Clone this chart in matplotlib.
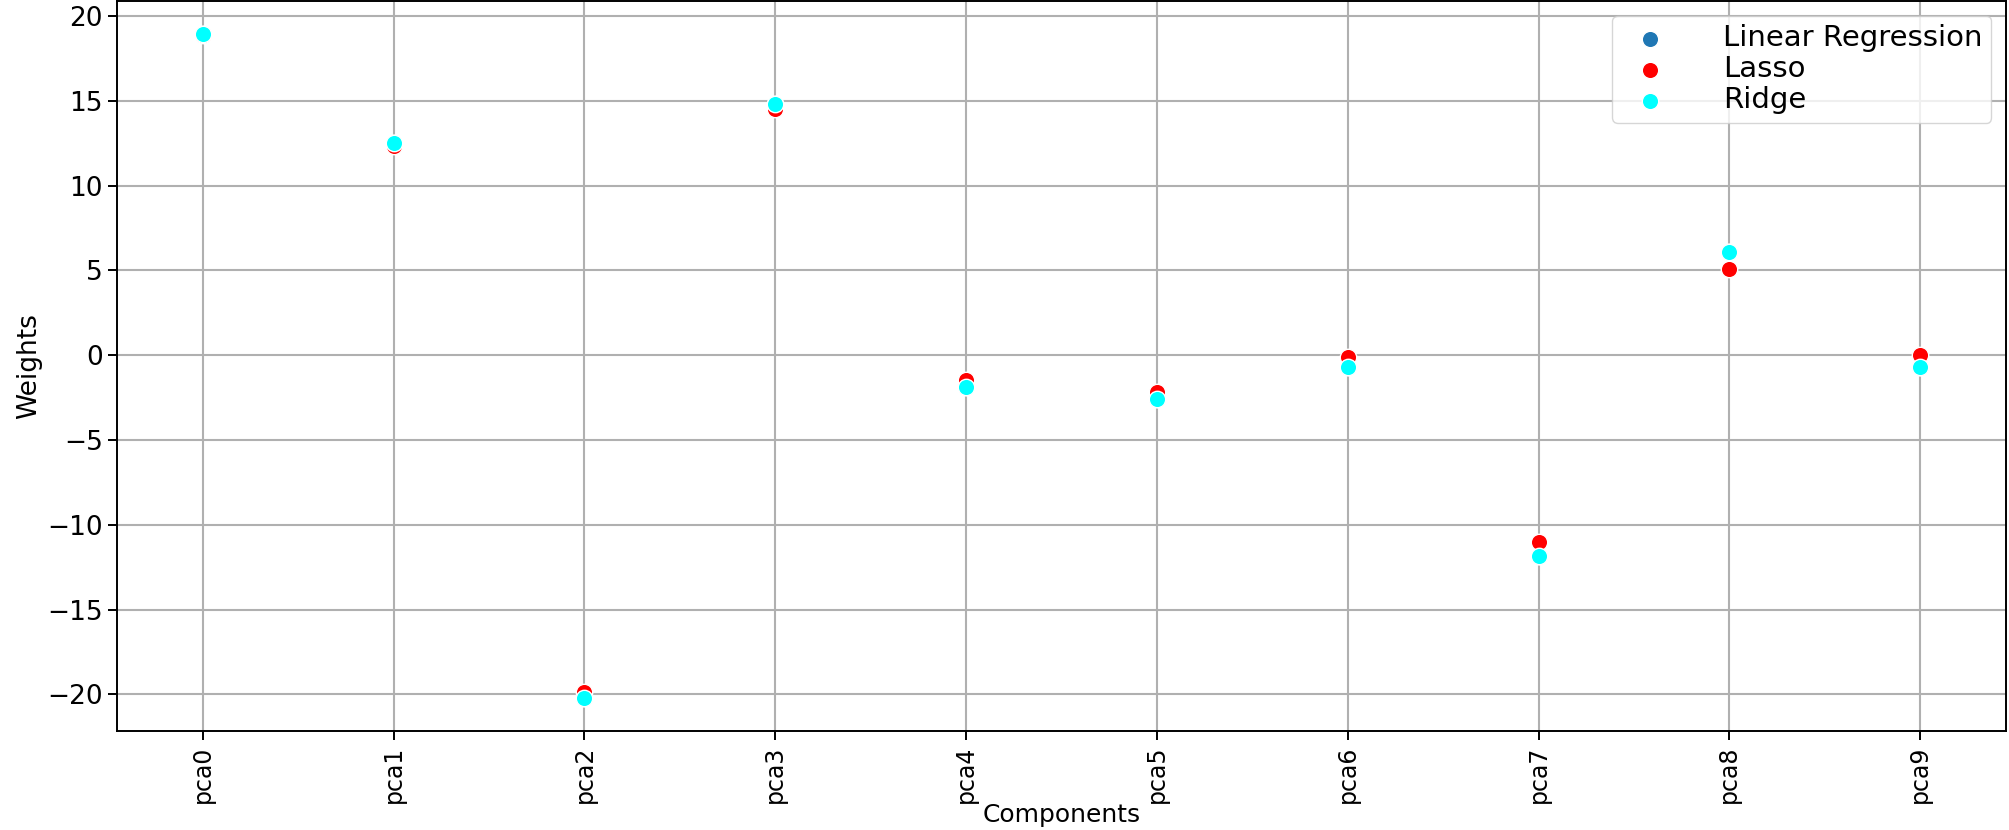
## pesos dos componentes PCA por modelo
import numpy as np
import matplotlib.pyplot as plt

## dados
components = ['pca0', 'pca1', 'pca2', 'pca3', 'pca4', 'pca5', 'pca6', 'pca7', 'pca8', 'pca9']
linear_w = [18.92, 12.49, -20.2, 14.78, -1.86, -2.6, -0.7, -11.85, 6.08, -0.69]
lasso_w = [18.9, 12.3, -19.88, 14.5, -1.47, -2.16, -0.1, -11.02, 5.1, 0.0]
ridge_w = [18.92, 12.49, -20.2, 14.78, -1.86, -2.6, -0.7, -11.85, 6.08, -0.69]

plt.rcParams['font.size'] = 19

fig = plt.figure(figsize=(20.09, 8.3), dpi=100)
ax = fig.add_axes([117 / 2009, 1 - 731 / 830, (2006 - 117) / 2009, 730 / 830])

x = np.arange(len(components))
ax.scatter(x, linear_w, s=140, color='#1f77b4', edgecolors='white', linewidths=1, label='Linear Regression', zorder=3)
ax.scatter(x, lasso_w, s=140, color='red', edgecolors='white', linewidths=1, label='Lasso', zorder=3)
ax.scatter(x, ridge_w, s=140, color='cyan', edgecolors='white', linewidths=1, label='Ridge', zorder=3)

ax.set_xticks(x)
ax.set_xticklabels(components, rotation=90, fontsize=17)
ax.set_yticks([-20, -15, -10, -5, 0, 5, 10, 15, 20])
ax.grid(True, color='#b0b0b0', linewidth=1.5)
ax.set_axisbelow(True)
ax.tick_params(length=6.5, width=1.4)
ax.tick_params(axis='x', pad=4)
for s in ax.spines.values():
    s.set_linewidth(1.4)

ax.set_xlabel('Components', fontsize=18, labelpad=0)
ax.set_ylabel('Weights', labelpad=4)

## legenda
ax.legend(loc='upper right', fontsize=21, handletextpad=1.5, borderpad=0.3, labelspacing=0.1)

fig.savefig('out.png', dpi=100)
